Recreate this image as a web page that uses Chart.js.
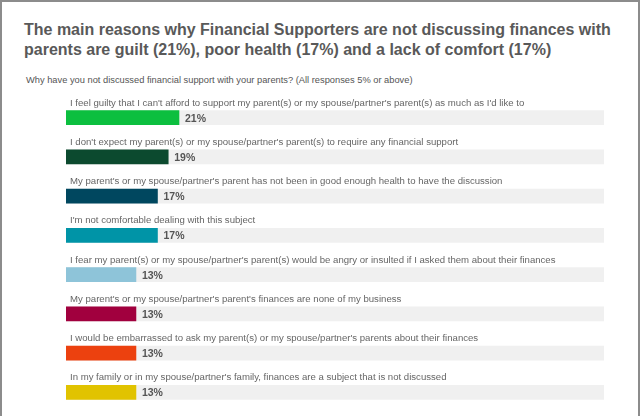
<!DOCTYPE html>
<html>
<head>
<meta charset="utf-8">
<script src="https://cdn.jsdelivr.net/npm/chart.js@4"></script>
<style>
  html, body { margin: 0; padding: 0; background: #fff; }
  #frame {
    position: absolute; left: 0; top: 0; width: 636px; height: 420px;
    border: 2px solid #8c8c8c; border-bottom: none;
  }
  #title {
    position: absolute; left: 24px; top: 20px; width: 600px;
    font: bold 16px "Liberation Sans", Arial, sans-serif; color: #595959;
    line-height: 20px;
  }
  #subtitle {
    position: absolute; left: 26px; top: 75px;
    font: 9.3px "Liberation Sans", Arial, sans-serif; color: #555;
  }
  #wrap { position: absolute; left: 0; top: 0; width: 640px; height: 416px; }
</style>
</head>
<body>
<div id="frame"></div>
<div id="title">The main reasons why Financial Supporters are not discussing finances with parents are guilt (21%), poor health (17%) and a lack of comfort (17%)</div>
<div id="subtitle">Why have you not discussed financial support with your parents? (All responses 5% or above)</div>
<div id="wrap"><canvas id="chart"></canvas></div>
<script>
const reasons = [
  "I feel guilty that I can't afford to support my parent(s) or my spouse/partner's parent(s) as much as I'd like to",
  "I don't expect my parent(s) or my spouse/partner's parent(s) to require any financial support",
  "My parent's or my spouse/partner's parent has not been in good enough health to have the discussion",
  "I'm not comfortable dealing with this subject",
  "I fear my parent(s) or my spouse/partner's parent(s) would be angry or insulted if I asked them about their finances",
  "My parent's or my spouse/partner's parent's finances are none of my business",
  "I would be embarrassed to ask my parent(s) or my spouse/partner's parents about their finances",
  "In my family or in my spouse/partner's family, finances are a subject that is not discussed"
];
const shares = [21, 19, 17, 17, 13, 13, 13, 13];
const track = [100, 100, 100, 100, 100, 100, 100, 100];
const barColors = ['#0cbf3f', '#0c4a2f', '#00475f', '#0094a7', '#8ec4d9', '#a1003e', '#ec410f', '#e1c300'];

// category text above each bar, value after the bar end
const labelPlugin = {
  id: 'rowLabels',
  afterDatasetsDraw(chart) {
    const { ctx } = chart;
    const meta = chart.getDatasetMeta(0);
    ctx.save();
    meta.data.forEach((bar, i) => {
      const top = bar.y - bar.height / 2;
      ctx.font = '9.6px "Liberation Sans", Arial, sans-serif';
      ctx.fillStyle = '#666';
      ctx.textAlign = 'left';
      ctx.textBaseline = 'alphabetic';
      ctx.fillText(reasons[i], bar.base + 4, top - 5);
      ctx.font = 'bold 10.5px "Liberation Sans", Arial, sans-serif';
      ctx.fillStyle = '#555';
      ctx.textBaseline = 'middle';
      ctx.fillText(shares[i] + '%', bar.x + 6, bar.y + 1);
    });
    ctx.restore();
  }
};

new Chart(document.getElementById('chart'), {
  type: 'bar',
  data: {
    labels: reasons,
    datasets: [
      { data: shares, backgroundColor: barColors, barThickness: 14, grouped: false, order: 0 },
      { data: track, backgroundColor: '#f0f0f0', barThickness: 14, grouped: false, order: 1 }
    ]
  },
  options: {
    indexAxis: 'y',
    responsive: true,
    maintainAspectRatio: false,
    animation: false,
    layout: { padding: { left: 66, right: 36, top: 98, bottom: 4 } },
    plugins: { legend: { display: false }, tooltip: { enabled: false } },
    scales: {
      x: { display: false, min: 0, max: 100 },
      y: { display: false }
    }
  },
  plugins: [labelPlugin]
});
</script>
</body>
</html>
